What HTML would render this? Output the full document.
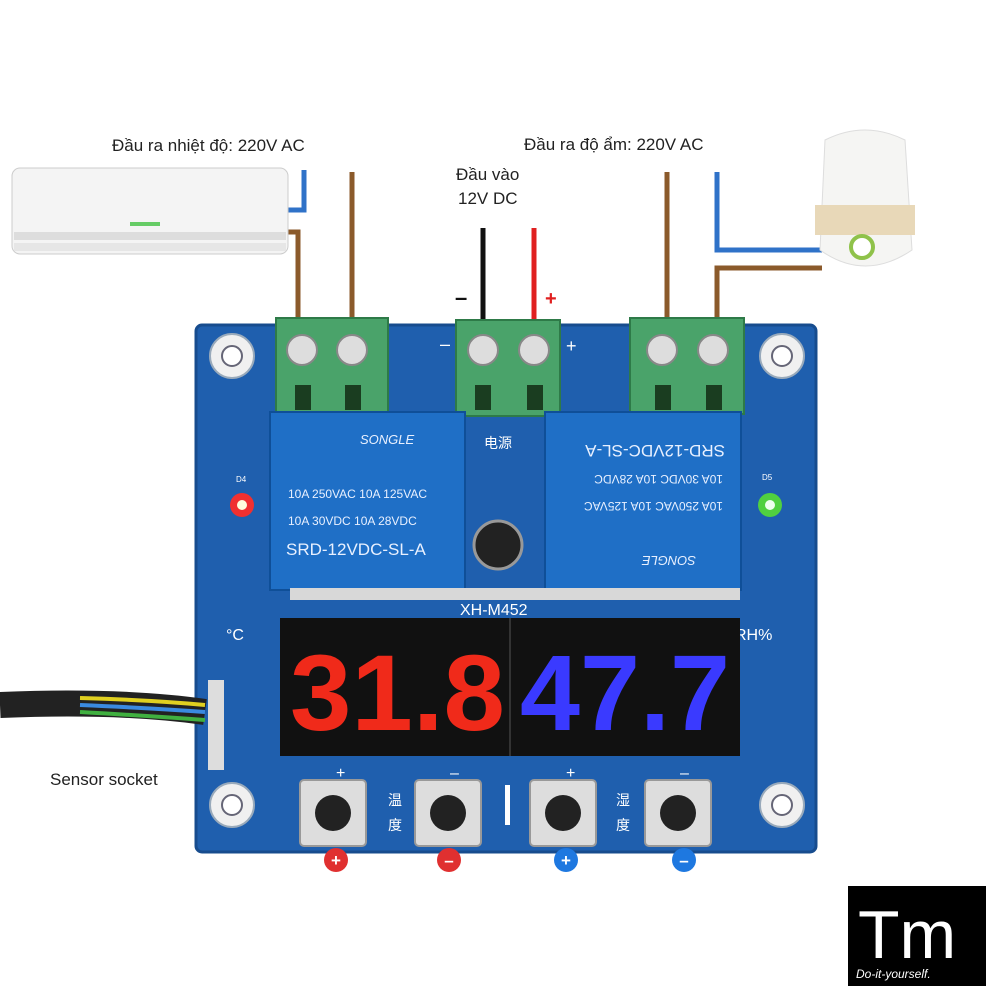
<!DOCTYPE html>
<html><head><meta charset="utf-8"><style>
html,body{margin:0;padding:0;background:#fff;}
svg{display:block;}
text{font-family:"Liberation Sans","DejaVu Sans",sans-serif;}
</style></head><body>
<svg width="1000" height="1000" viewBox="0 0 1000 1000" xmlns="http://www.w3.org/2000/svg">
<rect width="1000" height="1000" fill="#fff"/>
<!-- labels -->
<text x="112" y="151" font-size="17" fill="#222">Đầu ra nhiệt độ:  220V AC</text>
<text x="524" y="150" font-size="17" fill="#222">Đầu ra độ ẩm:  220V AC</text>
<text x="456" y="180" font-size="17" fill="#222">Đầu vào</text>
<text x="458" y="204" font-size="17" fill="#222">12V DC</text>
<text x="50" y="785" font-size="17" fill="#222">Sensor socket</text>
<!-- wires -->
<g fill="none" stroke-width="5">
<path d="M352 172 V330" stroke="#8b5a2b"/>
<path d="M284 210 H304 V170" stroke="#2f72c8"/>
<path d="M284 232 H298 V330" stroke="#8b5a2b"/>
<path d="M483 228 V322" stroke="#111"/>
<path d="M534 228 V322" stroke="#e02020"/>
<path d="M667 172 V330" stroke="#8b5a2b"/>
<path d="M717 172 V250 H822" stroke="#2f72c8"/>
<path d="M717 330 V268 H822" stroke="#8b5a2b"/>
</g>
<text x="455" y="305" font-size="22" fill="#111" font-weight="bold">–</text>
<text x="545" y="305" font-size="20" fill="#e02020" font-weight="bold">+</text>
<!-- air conditioner -->
<rect x="12" y="168" width="276" height="86" rx="8" fill="#f4f4f4" stroke="#ccc"/>
<rect x="14" y="232" width="272" height="8" fill="#ddd"/>
<rect x="14" y="243" width="272" height="8" fill="#e6e6e6"/>
<rect x="130" y="222" width="30" height="4" fill="#6c6"/>
<!-- humidifier -->
<path d="M825 140 Q865 120 905 140 L912 250 Q865 282 820 250 Z" fill="#f5f5f3" stroke="#ddd"/>
<rect x="815" y="205" width="100" height="30" fill="#e8d8b8"/>
<circle cx="862" cy="247" r="11" fill="#fff" stroke="#8fc24a" stroke-width="4"/>
<!-- PCB -->
<rect x="196" y="325" width="620" height="527" rx="6" fill="#1f5fae"/>
<rect x="196" y="325" width="620" height="527" rx="6" fill="none" stroke="#174c8e" stroke-width="3"/>
<!-- holes -->
<g fill="#f0f0f0" stroke="#9ab" stroke-width="2">
<circle cx="232" cy="356" r="22"/><circle cx="782" cy="356" r="22"/>
<circle cx="232" cy="805" r="22"/><circle cx="782" cy="805" r="22"/>
</g>
<g fill="#fff" stroke="#667" stroke-width="2">
<circle cx="232" cy="356" r="10"/><circle cx="782" cy="356" r="10"/>
<circle cx="232" cy="805" r="10"/><circle cx="782" cy="805" r="10"/>
</g>
<!-- terminal blocks -->
<g fill="#4aa36a" stroke="#2e7a48" stroke-width="2">
<rect x="276" y="318" width="112" height="96"/>
<rect x="456" y="320" width="104" height="96"/>
<rect x="630" y="318" width="114" height="96"/>
</g>
<g fill="#ddd" stroke="#888" stroke-width="2">
<circle cx="302" cy="350" r="15"/><circle cx="352" cy="350" r="15"/>
<circle cx="483" cy="350" r="15"/><circle cx="534" cy="350" r="15"/>
<circle cx="662" cy="350" r="15"/><circle cx="713" cy="350" r="15"/>
</g>
<g fill="#1a3d20">
<rect x="295" y="385" width="16" height="25"/><rect x="345" y="385" width="16" height="25"/>
<rect x="475" y="385" width="16" height="25"/><rect x="527" y="385" width="16" height="25"/>
<rect x="655" y="385" width="16" height="25"/><rect x="706" y="385" width="16" height="25"/>
</g>
<text x="440" y="350" font-size="18" fill="#fff">–</text>
<text x="566" y="352" font-size="18" fill="#fff">+</text>
<text x="484" y="448" font-size="14" fill="#fff">电源</text>
<!-- relays -->
<rect x="270" y="412" width="195" height="178" fill="#1f6fc6" stroke="#0f4f98" stroke-width="2"/>
<rect x="545" y="412" width="196" height="178" fill="#1f6fc6" stroke="#0f4f98" stroke-width="2"/>
<rect x="290" y="588" width="450" height="12" fill="#d8d8d8"/>
<text x="360" y="444" font-size="13" fill="#e8f0ff" font-style="italic">SONGLE</text>
<text x="288" y="498" font-size="12" fill="#e8f0ff">10A 250VAC  10A 125VAC</text>
<text x="288" y="525" font-size="12" fill="#e8f0ff">10A  30VDC  10A  28VDC</text>
<text x="286" y="555" font-size="17" fill="#e8f0ff">SRD-12VDC-SL-A</text>
<g transform="rotate(180 643 500)">
<text x="590" y="444" font-size="13" fill="#e8f0ff" font-style="italic">SONGLE</text>
<text x="563" y="498" font-size="12" fill="#e8f0ff">10A 250VAC  10A 125VAC</text>
<text x="563" y="525" font-size="12" fill="#e8f0ff">10A  30VDC  10A  28VDC</text>
<text x="561" y="555" font-size="17" fill="#e8f0ff">SRD-12VDC-SL-A</text>
</g>
<circle cx="498" cy="545" r="24" fill="#222" stroke="#999" stroke-width="3"/>
<!-- LEDs -->
<circle cx="242" cy="505" r="12" fill="#f03030"/><circle cx="242" cy="505" r="5" fill="#ffd"/>
<circle cx="770" cy="505" r="12" fill="#50d040"/><circle cx="770" cy="505" r="5" fill="#efe"/>
<text x="236" y="482" font-size="8" fill="#fff">D4</text>
<text x="762" y="480" font-size="8" fill="#fff">D5</text>
<text x="460" y="615" font-size="16" fill="#fff">XH-M452</text>
<text x="226" y="640" font-size="16" fill="#fff">°C</text>
<text x="735" y="640" font-size="16" fill="#fff">RH%</text>
<!-- display -->
<rect x="280" y="618" width="460" height="138" fill="#111"/>
<line x1="510" y1="618" x2="510" y2="756" stroke="#333" stroke-width="2"/>
<text x="290" y="730" font-size="108" fill="#f02a1a" font-family="Liberation Mono,monospace" font-weight="bold" textLength="215" lengthAdjust="spacingAndGlyphs">31.8</text>
<text x="520" y="730" font-size="108" fill="#3a3aff" font-family="Liberation Mono,monospace" font-weight="bold" textLength="210" lengthAdjust="spacingAndGlyphs">47.7</text>
<!-- sensor socket + cable -->
<rect x="208" y="680" width="16" height="90" fill="#ddd"/>
<path d="M0 705 Q120 700 205 712" stroke="#222" stroke-width="26" fill="none"/>
<path d="M80 698 Q150 700 205 705" stroke="#e0d020" stroke-width="4" fill="none"/>
<path d="M80 705 Q150 708 205 712" stroke="#3a8ae0" stroke-width="4" fill="none"/>
<path d="M80 712 Q150 716 205 720" stroke="#40b040" stroke-width="4" fill="none"/>
<!-- buttons -->
<g fill="#ddd" stroke="#999" stroke-width="2">
<rect x="300" y="780" width="66" height="66" rx="4"/>
<rect x="415" y="780" width="66" height="66" rx="4"/>
<rect x="530" y="780" width="66" height="66" rx="4"/>
<rect x="645" y="780" width="66" height="66" rx="4"/>
</g>
<g fill="#222"><circle cx="333" cy="813" r="18"/><circle cx="448" cy="813" r="18"/><circle cx="563" cy="813" r="18"/><circle cx="678" cy="813" r="18"/></g>
<text x="336" y="778" font-size="16" fill="#fff">+</text>
<text x="450" y="778" font-size="16" fill="#fff">–</text>
<text x="566" y="778" font-size="16" fill="#fff">+</text>
<text x="680" y="778" font-size="16" fill="#fff">–</text>
<text x="388" y="805" font-size="14" fill="#fff">温</text><text x="388" y="830" font-size="14" fill="#fff">度</text>
<text x="616" y="805" font-size="14" fill="#fff">湿</text><text x="616" y="830" font-size="14" fill="#fff">度</text>
<rect x="505" y="785" width="5" height="40" fill="#fff"/>
<!-- colored circles -->
<circle cx="336" cy="860" r="12" fill="#e03030"/><text x="336" y="866" font-size="17" fill="#fff" text-anchor="middle" font-weight="bold">+</text>
<circle cx="449" cy="860" r="12" fill="#e03030"/><text x="449" y="866" font-size="17" fill="#fff" text-anchor="middle" font-weight="bold">–</text>
<circle cx="566" cy="860" r="12" fill="#1e78e0"/><text x="566" y="866" font-size="17" fill="#fff" text-anchor="middle" font-weight="bold">+</text>
<circle cx="684" cy="860" r="12" fill="#1e78e0"/><text x="684" y="866" font-size="17" fill="#fff" text-anchor="middle" font-weight="bold">–</text>
<!-- logo -->
<rect x="848" y="886" width="138" height="100" fill="#000"/>
<text x="858" y="958" font-size="68" fill="#fff" font-family="Liberation Serif,serif">Tm</text>
<text x="856" y="978" font-size="12" fill="#fff" font-family="Liberation Serif,serif" font-style="italic">Do-it-yourself.</text>
</svg>
</body></html>
